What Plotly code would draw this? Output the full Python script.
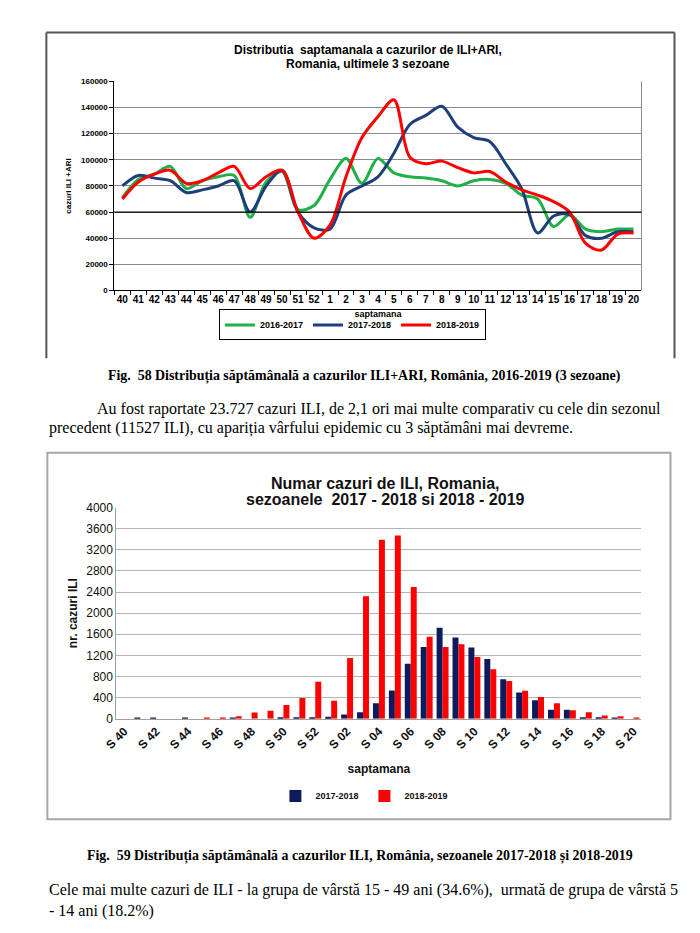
import plotly.graph_objects as go

# ---------------- data ----------------
weeks_line = ["40","41","42","43","44","45","46","47","48","49","50","51","52",
              "1","2","3","4","5","6","7","8","9","10","11","12","13","14","15","16","17","18","19","20"]
ili_ari_2016_2017 = [71000, 85000, 89000, 95000, 78000, 84000, 87000, 88000, 56000, 83000, 91000, 62000, 65000,
                     85000, 101000, 82000, 101000, 90000, 87000, 86000, 84000, 80000, 84000, 85000, 82000, 73000,
                     70000, 49000, 58000, 47000, 45000, 47000, 47000]
ili_ari_2017_2018 = [80000, 88000, 86000, 84000, 75000, 77000, 80000, 84000, 60000, 80000, 92000, 60000, 48000,
                     47000, 73000, 80000, 87000, 105000, 127000, 134000, 141000, 125000, 117000, 114000, 97000, 78000,
                     44000, 57000, 58000, 42000, 40000, 45000, 45000]
ili_ari_2018_2019 = [70000, 83000, 89000, 92000, 82000, 84000, 90000, 95000, 78000, 87000, 92000, 60000, 40000,
                     50000, 87000, 117000, 133000, 146000, 102000, 97000, 99000, 94000, 90000, 91000, 83000, 77000,
                     73000, 68000, 60000, 36000, 31000, 43000, 44000]
line_series_names = ["2016-2017", "2017-2018", "2018-2019"]

weeks_bar = ["S 40","S 41","S 42","S 43","S 44","S 45","S 46","S 47","S 48","S 49","S 50","S 51","S 52",
             "S 01","S 02","S 03","S 04","S 05","S 06","S 07","S 08","S 09","S 10","S 11","S 12","S 13",
             "S 14","S 15","S 16","S 17","S 18","S 19","S 20"]
ili_2017_2018 = [0, 6, 6, 0, 6, 0, 0, 10, 0, 0, 25, 25, 25,
                 35, 80, 120, 290, 535, 1040, 1360, 1725, 1540, 1350, 1130, 745, 495,
                 350, 170, 170, 25, 25, 15, 0]
ili_2018_2019 = [0, 0, 0, 0, 0, 8, 10, 45, 115, 150, 260, 390, 700,
                 340, 1150, 2320, 3390, 3470, 2495, 1550, 1360, 1410, 1170, 935, 715, 530,
                 410, 290, 160, 120, 60, 45, 15]
bar_series_names = ["2017-2018", "2018-2019"]

W, H = 700, 933
def X(x): return x - 12 * (674 - x) / 628         # page x (px) -> corrected px
def Y(y): return y - 5 + 9 * (y - 31) / 827        # page y (px) -> corrected px
def px(x): return X(x) / W
def py(y): return 1 - Y(y) / H

FONT = "Arial, Liberation Sans, sans-serif"
SERIF = "Times New Roman, Liberation Serif, serif"

fig = go.Figure()

# ---------------- line chart ----------------
line_colors = ["#1fb04a", "#1f3f7a", "#ff0000"]
for name, vals, col in zip(line_series_names,
                           [ili_ari_2016_2017, ili_ari_2017_2018, ili_ari_2018_2019], line_colors):
    fig.add_trace(go.Scatter(x=weeks_line, y=vals, mode="lines", name=name,
                             line=dict(color=col, width=3, shape="spline", smoothing=0.9),
                             xaxis="x", yaxis="y", legend="legend"))

# ---------------- bar chart ----------------
bar_colors = ["#0d1a5c", "#ff0000"]
for name, vals, col in zip(bar_series_names, [ili_2017_2018, ili_2018_2019], bar_colors):
    fig.add_trace(go.Bar(x=weeks_bar, y=vals, name=name, marker=dict(color=col, line=dict(width=0)),
                         xaxis="x2", yaxis="y2", legend="legend2"))

fig.update_layout(
    width=W, height=H, margin=dict(l=0, r=0, t=0, b=0),
    paper_bgcolor="white", plot_bgcolor="white",
    barmode="group", bargap=0.25, bargroupgap=0.0,
    xaxis=dict(domain=[px(114), px(641)], anchor="y", type="category", categoryorder="array",
               categoryarray=weeks_line,
               range=[-0.5, 32.5], showgrid=False, showline=True, linecolor="#000", linewidth=1,
               ticks="outside", tickson="boundaries", ticklen=4, tickcolor="#000",
               tickfont=dict(family=FONT, size=10, color="#000", weight="bold"), tickangle=0,
               title=dict(text="saptamana", font=dict(family=FONT, size=9, color="#000", weight="bold"), standoff=6),
               fixedrange=True),
    yaxis=dict(domain=[py(290), py(80)], anchor="x", range=[0, 160000], dtick=20000, tickformat="d",
               showgrid=True, gridcolor="#8a8a8a",
               gridwidth=1, showline=True, linecolor="#000", linewidth=1, ticks="outside", ticklen=4,
               tickcolor="#000", zeroline=False,
               tickfont=dict(family=FONT, size=8, color="#000", weight="bold"),
               title=dict(text="cazuri ILI +ARI", font=dict(family=FONT, size=8, color="#000", weight="bold"),
                          standoff=8),
               fixedrange=True),
    xaxis2=dict(domain=[px(116), px(641)], anchor="y2", type="category", categoryorder="array",
                categoryarray=weeks_bar,
                range=[-0.5, 32.5], showgrid=False, showline=True, linecolor="#a0a0a0", linewidth=1,
                ticks="", tickvals=weeks_bar[::2], tickangle=-45,
                tickfont=dict(family=FONT, size=12, color="#111", weight="bold"),
                title=dict(text="saptamana", font=dict(family=FONT, size=12, color="#111", weight="bold"),
                           standoff=13),
                fixedrange=True),
    yaxis2=dict(domain=[py(720), py(508)], anchor="x2", range=[0, 4000], dtick=400, tickformat="d",
                showgrid=True, gridcolor="#b4b4b4",
                gridwidth=1, showline=True, linecolor="#a0a0a0", linewidth=1, zeroline=False,
                ticks="", tickfont=dict(family=FONT, size=12, color="#111"),
                title=dict(text="nr. cazuri ILI", font=dict(family=FONT, size=12, color="#111", weight="bold"),
                           standoff=6),
                fixedrange=True),
    legend=dict(orientation="h", x=px(352), xanchor="center", y=py(309), yanchor="top",
                bordercolor="#000", borderwidth=1, bgcolor="white",
                font=dict(family=FONT, size=9, color="#000", weight="bold"),
                itemwidth=30, tracegroupgap=0),
    legend2=dict(orientation="h", x=px(275), xanchor="left", y=py(783), yanchor="top",
                 bgcolor="rgba(0,0,0,0)", font=dict(family=FONT, size=9, color="#111", weight="bold"),
                 itemwidth=30, entrywidth=44),
    showlegend=True,
)

shapes = []
# top chart frame
shapes.append(dict(type="line", xref="paper", yref="paper", x0=px(46), x1=px(46), y0=py(31), y1=py(358),
                   line=dict(color="#555", width=2)))
shapes.append(dict(type="line", xref="paper", yref="paper", x0=px(46), x1=px(674), y0=py(31), y1=py(31),
                   line=dict(color="#555", width=2)))
shapes.append(dict(type="line", xref="paper", yref="paper", x0=px(674), x1=px(674), y0=py(31), y1=py(358),
                   line=dict(color="#555", width=2)))
# right border of line plot area
shapes.append(dict(type="line", xref="x domain", yref="y domain", x0=1, x1=1, y0=0, y1=1,
                   line=dict(color="#8a8a8a", width=1)))
# darker 60000 line
shapes.append(dict(type="line", xref="x domain", yref="y", x0=0, x1=1, y0=60000, y1=60000,
                   line=dict(color="#000", width=1.2)))
# bottom chart frame
shapes.append(dict(type="rect", xref="paper", yref="paper", x0=px(47), x1=px(670), y0=py(453), y1=py(821),
                   line=dict(color="#a8a8a8", width=2), layer="below"))
fig.update_layout(shapes=shapes)

ann = []
def text(x, y, s, size, family=FONT, bold=False, anchor="center", color="#000"):
    ann.append(dict(x=px(x), y=py(y), xref="paper", yref="paper", text=s, showarrow=False,
                    xanchor=anchor, yanchor="middle",
                    font=dict(family=family, size=size, color=color, weight="bold" if bold else "normal")))

text(368, 48, "Distributia  saptamanala a cazurilor de ILI+ARI,", 12, bold=True)
text(368, 63, "Romania, ultimele 3 sezoane", 12, bold=True)
text(385, 484, "Numar cazuri de ILI, Romania,", 16, bold=True, color="#111")
text(385, 500, "sezoanele  2017 - 2018 si 2018 - 2019", 16, bold=True, color="#111")

text(364, 376, "Fig.  58 Distribuția săptămânală a cazurilor ILI+ARI, România, 2016-2019 (3 sezoane)", 13.9,
     family=SERIF, bold=True)
text(95, 409, "Au fost raportate 23.727 cazuri ILI, de 2,1 ori mai multe comparativ cu cele din sezonul", 16,
     family=SERIF, anchor="left")
text(47, 428, "precedent (11527 ILI), cu apariția vârfului epidemic cu 3 săptămâni mai devreme.", 16,
     family=SERIF, anchor="left")
text(360, 858, "Fig.  59 Distribuția săptămânală a cazurilor ILI, România, sezoanele 2017-2018 și 2018-2019", 13.9,
     family=SERIF, bold=True)
text(47, 892, "Cele mai multe cazuri de ILI - la grupa de vârstă 15 - 49 ani (34.6%),  urmată de grupa de vârstă 5",
     16, family=SERIF, anchor="left")
text(47, 913, "- 14 ani (18.2%)", 16, family=SERIF, anchor="left")
fig.update_layout(annotations=ann)

fig.write_html("out.html", config={"displayModeBar": False},
               post_script="document.body.style.margin='0';")
